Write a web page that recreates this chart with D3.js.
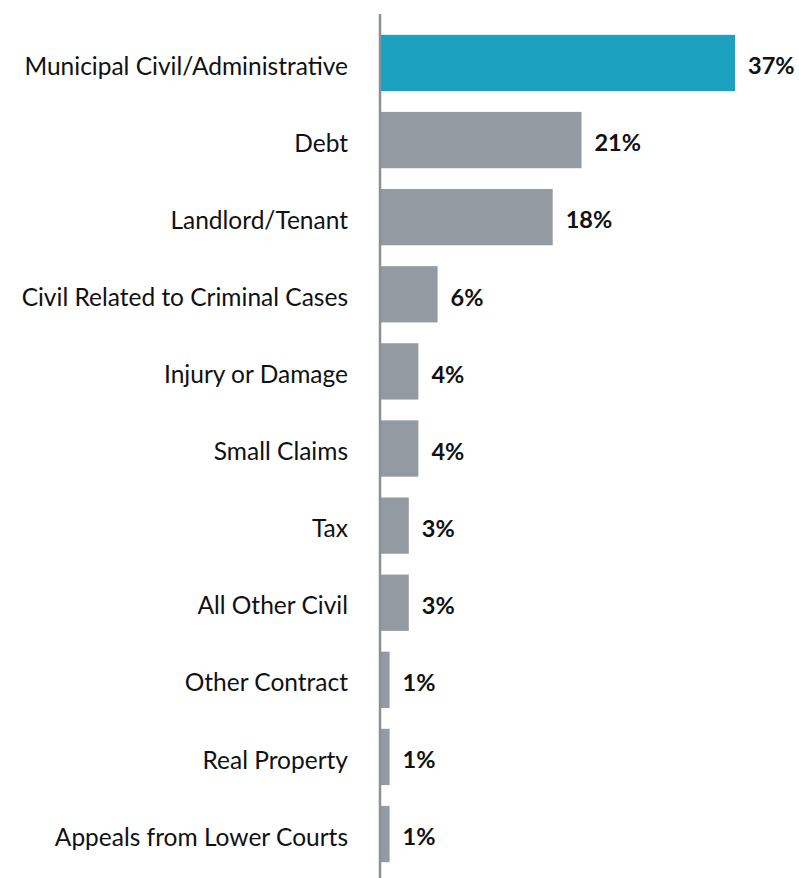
<!DOCTYPE html>
<html>
<head>
<meta charset="utf-8">
<script src="https://cdn.jsdelivr.net/npm/d3@7"></script>
<style>
  body { margin: 0; background: #fff; }
  svg { display: block; }
  text { font-family: Lato, "Open Sans", sans-serif; }
</style>
</head>
<body>
<svg width="799" height="878"></svg>
<script>
  // Data
  var categories = [
        "Municipal Civil/Administrative", "Debt", "Landlord/Tenant",
        "Civil Related to Criminal Cases", "Injury or Damage", "Small Claims",
        "Tax", "All Other Civil", "Other Contract", "Real Property",
        "Appeals from Lower Courts"
      ]
    , values = [37, 21, 18, 6, 4, 4, 3, 3, 1, 1, 1]
  ;

  // Configuration
  var axisX = 380
    , highlight = "#1da1c1"
    , grey = "#939aa2"
  ;

  var svg = d3.select("svg")
    , data = categories.map(function (c, i){ return { cat: c, v: values[i] }; })
  ;

  var xScale = d3.scaleLinear().domain([0, 37]).range([axisX, 735])
    , yScale = d3.scaleBand().domain(categories)
        .range([14, 883]).paddingInner(0.27).paddingOuter(0.27)
  ;

  // Bars
  svg.selectAll("rect.bar")
      .data(data)
    .enter().append("rect")
      .attr("class", "bar")
      .attr("x", xScale(0))
      .attr("y", function (d){ return yScale(d.cat); })
      .attr("width", function (d){ return xScale(d.v) - xScale(0); })
      .attr("height", yScale.bandwidth())
      .attr("fill", function (d, i){ return i === 0 ? highlight : grey; })
  ;

  // Value labels
  svg.selectAll("text.value")
      .data(data)
    .enter().append("text")
      .attr("class", "value")
      .attr("x", function (d){ return xScale(d.v) + 13; })
      .attr("y", function (d){ return yScale(d.cat) + yScale.bandwidth() / 2 + 3; })
      .attr("dy", "0.35em")
      .attr("font-size", 23.5)
      .attr("font-weight", "bold")
      .attr("fill", "#111")
      .text(function (d){ return d.v + "%"; })
  ;

  // Category labels
  svg.selectAll("text.cat")
      .data(data)
    .enter().append("text")
      .attr("class", "cat")
      .attr("x", 348)
      .attr("y", function (d){ return yScale(d.cat) + yScale.bandwidth() / 2 + 3; })
      .attr("dy", "0.35em")
      .attr("text-anchor", "end")
      .attr("font-size", 24.5)
      .attr("fill", "#111")
      .text(function (d){ return d.cat; })
  ;

  // Axis line
  svg.append("line")
      .attr("x1", axisX).attr("x2", axisX)
      .attr("y1", 14).attr("y2", 878)
      .attr("stroke", "#8a9097")
      .attr("stroke-width", 2.5)
  ;
</script>
</body>
</html>
